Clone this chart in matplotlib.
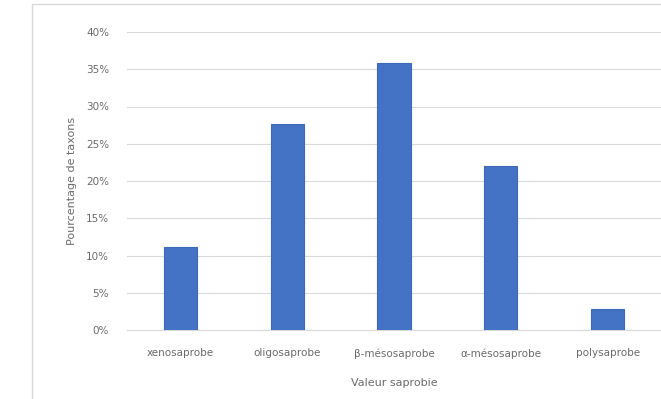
import matplotlib.pyplot as plt
from matplotlib.patches import Rectangle
from matplotlib.ticker import PercentFormatter

categories = ["xenosaprobe", "oligosaprobe", "β-mésosaprobe", "α-mésosaprobe", "polysaprobe"]
values = [11.2, 27.6, 35.8, 22.0, 2.8]
y_ticks = [0, 5, 10, 15, 20, 25, 30, 35, 40]

text_color = "#6a6a6a"

fig = plt.figure(figsize=(6.61, 3.99), dpi=100)
fig.patch.set_facecolor("white")

# cadre du graphique (bordure grise claire)
fig.patches.append(Rectangle((32 / 661, -0.05), 1.0, 1.04, transform=fig.transFigure,
                             fill=False, edgecolor="#d9d9d9", linewidth=1.0))

ax = fig.add_axes([127 / 661, 69 / 399, 534 / 661, 298 / 399])
x = range(len(categories))
ax.bar(x, values, width=0.31, color="#4472C4", edgecolor="#3f68b3", linewidth=0.8, zorder=3)

ax.set_xlim(-0.5, len(categories) - 0.5)
ax.set_ylim(0, 40)
ax.set_yticks(y_ticks)
ax.yaxis.set_major_formatter(PercentFormatter(decimals=0))
ax.set_xticks(list(x))
ax.set_xticklabels(categories)

ax.grid(axis="y", color="#d9d9d9", linewidth=0.8, zorder=0)
for side in ["top", "right", "left"]:
    ax.spines[side].set_visible(False)
ax.spines["bottom"].set_color("#d9d9d9")
ax.tick_params(axis="both", length=0, colors=text_color, labelsize=7.5)
ax.tick_params(axis="y", pad=13)
ax.tick_params(axis="x", pad=13)

ax.set_xlabel("Valeur saprobie", color=text_color, fontsize=8, labelpad=14)
ax.set_ylabel("Pourcentage de taxons", color=text_color, fontsize=8, labelpad=6)

fig.savefig("out.png", dpi=100)
